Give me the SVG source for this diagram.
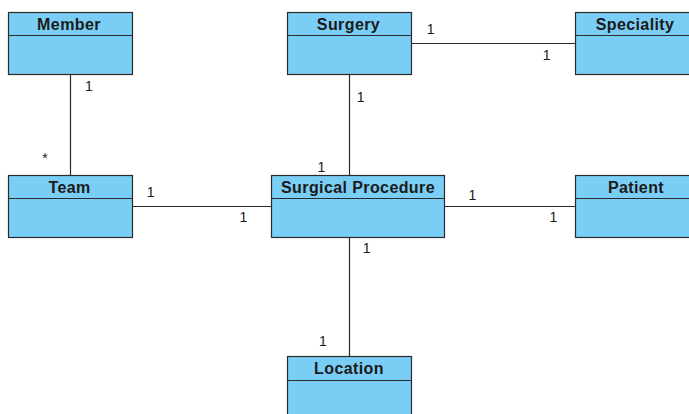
<svg xmlns="http://www.w3.org/2000/svg" width="689" height="414" viewBox="0 0 689 414">
<style>
.box{fill:#7acdf4;stroke:#2b2b2b;stroke-width:1.2}
.sep{stroke:#2b2b2b;stroke-width:1.2}
.title{font-family:"Liberation Sans",Arial,sans-serif;font-weight:bold;font-size:16px;letter-spacing:0.4px;fill:#1a1a1a;text-anchor:middle}
.lbl{font-family:"Liberation Sans",Arial,sans-serif;font-size:14px;fill:#1a1a1a}
.conn line{stroke:#2b2b2b;stroke-width:1.2}
</style>
<rect width="689" height="414" fill="#ffffff"/>
<g id="connectors" class="conn">
<line x1="70.5" y1="74.5" x2="70.5" y2="175.5"/>
<line x1="349.5" y1="74.5" x2="349.5" y2="175.5"/>
<line x1="349.5" y1="237.5" x2="349.5" y2="356.5"/>
<line x1="411.5" y1="43.5" x2="575.5" y2="43.5"/>
<line x1="132.5" y1="206.5" x2="271.5" y2="206.5"/>
<line x1="444.5" y1="206.5" x2="575.5" y2="206.5"/>
</g>
<g id="labels">
<text class="lbl" x="85.1" y="90.5">1</text>
<text class="lbl" x="42.3" y="162.5">*</text>
<text class="lbl" x="426.8" y="34">1</text>
<text class="lbl" x="542.8" y="59.5">1</text>
<text class="lbl" x="356.8" y="101.5">1</text>
<text class="lbl" x="317.4" y="171.5">1</text>
<text class="lbl" x="146.8" y="197">1</text>
<text class="lbl" x="239.4" y="222">1</text>
<text class="lbl" x="468.4" y="199.5">1</text>
<text class="lbl" x="549.4" y="222">1</text>
<text class="lbl" x="362.8" y="253">1</text>
<text class="lbl" x="319.1" y="345.5">1</text>
</g>
<g id="member">
<rect class="box" x="8.5" y="12.5" width="124" height="62"/>
<line class="sep" x1="8.5" y1="35.5" x2="132.5" y2="35.5"/>
<text class="title" x="69" y="30">Member</text>
</g>
<g id="surgery">
<rect class="box" x="287.5" y="12.5" width="124" height="62"/>
<line class="sep" x1="287.5" y1="35.5" x2="411.5" y2="35.5"/>
<text class="title" x="348.5" y="30">Surgery</text>
</g>
<g id="speciality">
<rect class="box" x="575.5" y="12.5" width="124" height="62"/>
<line class="sep" x1="575.5" y1="35.5" x2="699.5" y2="35.5"/>
<text class="title" x="635" y="30">Speciality</text>
</g>
<g id="team">
<rect class="box" x="8.5" y="175.5" width="124" height="62"/>
<line class="sep" x1="8.5" y1="198.5" x2="132.5" y2="198.5"/>
<text class="title" x="69.5" y="193">Team</text>
</g>
<g id="surgical-procedure">
<rect class="box" x="271.5" y="175.5" width="173" height="62"/>
<line class="sep" x1="271.5" y1="198.5" x2="444.5" y2="198.5"/>
<text class="title" x="358" y="193">Surgical Procedure</text>
</g>
<g id="patient">
<rect class="box" x="575.5" y="175.5" width="124" height="62"/>
<line class="sep" x1="575.5" y1="198.5" x2="699.5" y2="198.5"/>
<text class="title" x="636" y="193">Patient</text>
</g>
<g id="location">
<rect class="box" x="287.5" y="356.5" width="124" height="62"/>
<line class="sep" x1="287.5" y1="380.5" x2="411.5" y2="380.5"/>
<text class="title" x="349" y="374">Location</text>
</g>
</svg>
